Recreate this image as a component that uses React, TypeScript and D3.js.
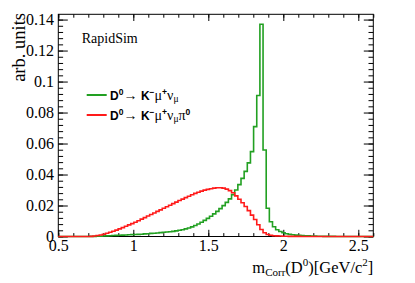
import React, { useRef, useEffect } from 'react';
import * as d3 from 'd3';

// 100 bins between 0.5 and 2.6 GeV/c^2
const xMin = 0.5;
const xMax = 2.6;
const nBins = 100;

// D0 -> K- mu+ nu (green)
const kmunu = [
  0, 0, 0, 0, 0, 0, 0, 0, 0, 0,
  0.00005, 0.0001, 0.00015, 0.0002, 0.0003, 0.0004, 0.0005, 0.0006, 0.0007, 0.0008,
  0.0009, 0.001, 0.0011, 0.0012, 0.0013, 0.0014, 0.0015, 0.0017, 0.0018, 0.002,
  0.0021, 0.0023, 0.0025, 0.0027, 0.0029, 0.0031, 0.0033, 0.0036, 0.004, 0.0044,
  0.0049, 0.0055, 0.0062, 0.0071, 0.0081, 0.0092, 0.0104, 0.0117, 0.0131, 0.0146,
  0.0162, 0.018, 0.0199, 0.022, 0.0243, 0.027, 0.03, 0.0335, 0.0375, 0.042,
  0.0475, 0.0548, 0.0709, 0.091, 0.137, 0.0558, 0.0182, 0.0095, 0.0063, 0.0044,
  0.0032, 0.0024, 0.0018, 0.0014, 0.0011, 0.0009, 0.0007, 0.0006, 0.0005, 0.0004,
  0.0003, 0.00025, 0.0002, 0.00015, 0.0001, 0.00008, 0.00006, 0.00005, 0.00004, 0.00003,
  0.00002, 0.00002, 0.00001, 0.00001, 0.00001, 0, 0, 0, 0, 0,
];

// D0 -> K- mu+ nu pi0 (red)
const kmunupi0 = [
  0, 0, 0, 0, 0, 0, 0, 0, 0, 0.00003,
  0.0001, 0.0003, 0.0006, 0.001, 0.0015, 0.0021, 0.0027, 0.0034, 0.0041, 0.0049,
  0.0057, 0.0066, 0.0075, 0.0083, 0.0092, 0.0102, 0.0112, 0.0122, 0.0132, 0.0142,
  0.0152, 0.0162, 0.0172, 0.0182, 0.0192, 0.0202, 0.0212, 0.0222, 0.0232, 0.0241,
  0.0251, 0.026, 0.0269, 0.0278, 0.0286, 0.0293, 0.0299, 0.0304, 0.0308, 0.0312,
  0.0315, 0.0315, 0.0312, 0.0306, 0.0296, 0.0282, 0.0262, 0.024, 0.0218, 0.0194,
  0.0167, 0.0138, 0.011, 0.0076, 0.0045, 0.0024, 0.0013, 0.0008, 0.0005, 0.0004,
  0.0003, 0.0002, 0.00015, 0.0001, 0.00008, 0.00006, 0.00005, 0.00004, 0.00003, 0.00002,
  0, 0, 0, 0, 0, 0, 0, 0, 0, 0,
  0, 0, 0, 0, 0, 0, 0, 0, 0, 0,
];

const xTickValues = [0.5, 1, 1.5, 2, 2.5];
const xTickLabels = ['0.5', '1', '1.5', '2', '2.5'];
const yTickValues = [0, 0.02, 0.04, 0.06, 0.08, 0.1, 0.12, 0.14];
const yTickLabels = ['0', '0.02', '0.04', '0.06', '0.08', '0.1', '0.12', '0.14'];

const green = '#22a022';
const red = '#ff1a1a';

const W = 415;
const H = 283;
const frame = { left: 58.3, right: 373.3, top: 14.3, bottom: 236.5 };

function LegendEntry({ y, withPi }) {
  const greek = { fontFamily: 'Liberation Serif', fontWeight: 'normal' as const, fontSize: 14 };
  return (
    <text x={110} y={y} fontFamily="Liberation Sans" fontWeight="bold" fontSize={12}>
      D<tspan fontSize={8.5} dy={-5}>0</tspan>
      <tspan dy={5} {...greek}>{'\u2192 '}</tspan>
      K<tspan fontSize={8.5} dy={-5}>{'\u2212'}</tspan>
      <tspan dy={5} {...greek}>{'\u03bc'}</tspan>
      <tspan fontSize={8.5} dy={-5}>+</tspan>
      <tspan dy={5} {...greek}>{'\u03bd'}</tspan>
      <tspan dy={2.5} {...greek} fontSize={9.5}>{'\u03bc'}</tspan>
      {withPi && <tspan dy={-2.5} {...greek}>{'\u03c0'}</tspan>}
      {withPi && <tspan fontSize={8.5} dy={-5}>0</tspan>}
    </text>
  );
}

function App() {
  const svgRef = useRef(null);

  const x = d3.scaleLinear().domain([xMin, xMax]).range([frame.left, frame.right]);
  const y = d3.scaleLinear().domain([0, 0.1434]).range([frame.bottom, frame.top]);
  const binW = (xMax - xMin) / nBins;

  const step = d3.line<number>()
    .x((d, i) => x(xMin + i * binW))
    .y(d => y(d))
    .curve(d3.curveStepAfter);
  const histPath = (vals: number[]) => step([...vals, vals[vals.length - 1]]);

  useEffect(() => {
    const svg = d3.select(svgRef.current);
    const minorX = x.ticks(21);
    const minorY = d3.range(0, 0.1434, 0.004);

    const fmtX = (d, i) => xTickLabels[i];
    const fmtY = (d, i) => yTickLabels[i];

    // Bottom axis, labelled
    svg.select('.x.axis')
      .call(d3.axisBottom(x).tickValues(xTickValues).tickFormat(fmtX).tickSize(-6.7).tickPadding(3));
    svg.select('.x.minor')
      .call(d3.axisBottom(x).tickValues(minorX).tickFormat(() => '').tickSize(-3.4));
    // Top axis ticks
    svg.select('.x.top')
      .call(d3.axisTop(x).tickValues(xTickValues).tickFormat(() => '').tickSize(-6.7));
    svg.select('.x.topminor')
      .call(d3.axisTop(x).tickValues(minorX).tickFormat(() => '').tickSize(-3.4));
    // Left axis, labelled
    svg.select('.y.axis')
      .call(d3.axisLeft(y).tickValues(yTickValues).tickFormat(fmtY).tickSize(-9.5).tickPadding(4.3));
    svg.select('.y.minor')
      .call(d3.axisLeft(y).tickValues(minorY).tickFormat(() => '').tickSize(-4.8));
    // Right axis ticks
    svg.select('.y.right')
      .call(d3.axisRight(y).tickValues(yTickValues).tickFormat(() => '').tickSize(-9.5));
    svg.select('.y.rightminor')
      .call(d3.axisRight(y).tickValues(minorY).tickFormat(() => '').tickSize(-4.8));

    svg.selectAll('.domain').remove();
    svg.selectAll('.tick line').attr('stroke', '#000').attr('stroke-width', 1);
    svg.selectAll('.tick text')
      .attr('font-family', 'Liberation Serif')
      .attr('font-size', 16)
      .attr('fill', '#000');
  }, []);

  return (
    <svg ref={svgRef} width={W} height={H} style={{ position: 'absolute', left: 0, top: 0, background: '#fff' }}>
      <rect x={0} y={0} width={W} height={H} fill="#fff" />
      <g className="x axis" transform={`translate(0, ${frame.bottom})`} />
      <g className="x minor" transform={`translate(0, ${frame.bottom})`} />
      <g className="x top" transform={`translate(0, ${frame.top})`} />
      <g className="x topminor" transform={`translate(0, ${frame.top})`} />
      <g className="y axis" transform={`translate(${frame.left}, 0)`} />
      <g className="y minor" transform={`translate(${frame.left}, 0)`} />
      <g className="y right" transform={`translate(${frame.right}, 0)`} />
      <g className="y rightminor" transform={`translate(${frame.right}, 0)`} />
      <rect x={frame.left} y={frame.top} width={frame.right - frame.left} height={frame.bottom - frame.top}
        fill="none" stroke="#000" strokeWidth={1} />

      <path d={histPath(kmunu)} fill="none" stroke={green} strokeWidth={1.6} />
      <path d={histPath(kmunupi0)} fill="none" stroke={red} strokeWidth={1.6} />

      <text x={81.7} y={43} fontFamily="Liberation Serif" fontSize={14}>RapidSim</text>

      {/* legend */}
      <line x1={86.7} x2={106.7} y1={95} y2={95} stroke={green} strokeWidth={2} />
      <LegendEntry y={99.5} withPi={false} />
      <line x1={86.7} x2={106.7} y1={115} y2={115} stroke={red} strokeWidth={2} />
      <LegendEntry y={119.5} withPi={true} />

      {/* axis titles */}
      <text transform="translate(25, 13) rotate(-90)" textAnchor="end" fontFamily="Liberation Serif" fontSize={18.5}>
        arb. units
      </text>
      <text x={373.3} y={273} textAnchor="end" fontFamily="Liberation Serif" fontSize={16.5}>
        m<tspan fontSize={11} dy={3}>Corr</tspan>
        <tspan dy={-3}>(D</tspan>
        <tspan fontSize={11} dy={-7}>0</tspan>
        <tspan dy={7}>)[GeV/c</tspan>
        <tspan fontSize={11} dy={-7}>2</tspan>
        <tspan dy={7}>]</tspan>
      </text>
    </svg>
  );
}

export default App;
